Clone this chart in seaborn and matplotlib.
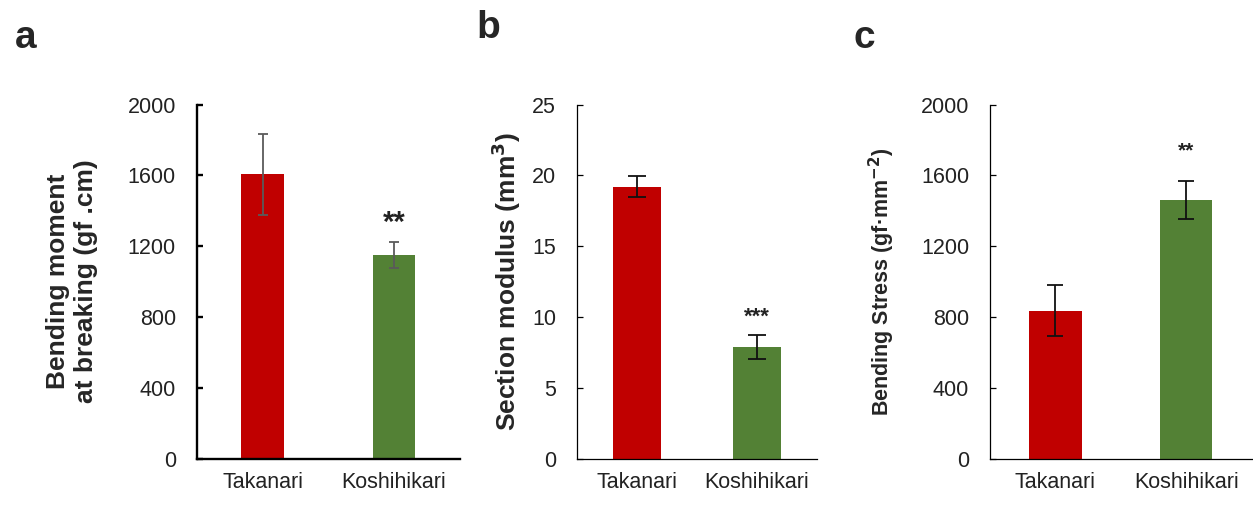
import numpy as np
import pandas as pd
import matplotlib
matplotlib.use("Agg")
import matplotlib.pyplot as plt
import seaborn as sns

#%% Data ########################################################################
cultivars = ["Takanari", "Koshihikari"]

moment_mean = [1605, 1150]      # bending moment at breaking (gf.cm)
moment_err = [230, 73]

modulus_mean = [19.2, 7.9]      # section modulus (mm3)
modulus_err = [0.73, 0.85]

stress_mean = [835, 1462]       # bending stress (gf/mm2)
stress_err = [145, 108]

stars = ["**", "***", "**"]

#%% Style #######################################################################
sns.set_theme(style="white")
plt.rcParams["font.family"] = ["Liberation Sans", "DejaVu Sans"]
colors = ["#C00000", "#538135"]

fig = plt.figure(figsize=(12.53, 5.05), dpi=100)

panels = [
    dict(rect=[0.157, 0.092, 0.210, 0.701], mean=moment_mean, err=moment_err,
         ylim=2000, ticks=[0, 400, 800, 1200, 1600, 2000], width=0.32,
         label="Bending moment\nat breaking (gf .cm)", lsize=19, lx=-0.475,
         spine=1.7, ecol="#5a5a5a", cap=6.5, star_y=1330, star_size=21, star_w="bold",
         letter="a", letter_xy=(0.012, 0.925)),
    dict(rect=[0.4605, 0.092, 0.1915, 0.701], mean=modulus_mean, err=modulus_err,
         ylim=25, ticks=[0, 5, 10, 15, 20, 25], width=0.40,
         label="Section modulus (mm$^{\\mathbf{3}}$)", lsize=19, lx=-0.296,
         spine=0.9, ecol="#111111", cap=13, star_y=10.0, star_size=16, star_w="bold",
         letter="b", letter_xy=(0.380, 0.945)),
    dict(rect=[0.790, 0.092, 0.209, 0.701], mean=stress_mean, err=stress_err,
         ylim=2000, ticks=[0, 400, 800, 1200, 1600, 2000], width=0.40,
         label="Bending Stress (gf·mm$^{\\mathbf{-2}}$)", lsize=15.5, lx=-0.412,
         spine=0.9, ecol="#111111", cap=12, star_y=1740, star_size=15, star_w="bold",
         letter="c", letter_xy=(0.681, 0.925)),
]

for p, star in zip(panels, stars):
    ax = fig.add_axes(p["rect"])
    df = pd.DataFrame({"cultivar": cultivars, "value": p["mean"]})
    sns.barplot(data=df, x="cultivar", y="value", hue="cultivar", palette=colors,
                order=cultivars, legend=False, width=p["width"], saturation=1,
                linewidth=0, ax=ax)
    ax.errorbar(range(len(cultivars)), p["mean"], yerr=p["err"], fmt="none",
                ecolor=p["ecol"], elinewidth=1.3, capsize=p["cap"] / 2, capthick=1.3)

    ax.set_xlim(-0.5, 1.5)
    ax.set_ylim(0, p["ylim"])
    ax.set_yticks(p["ticks"])
    ax.set_yticklabels([str(t) for t in p["ticks"]], fontsize=15.5, color="#222222")
    ax.set_xticks([0, 1])
    ax.set_xticklabels(cultivars, fontsize=15.5, color="#222222")
    ax.set_xticks([-0.5, 0.5, 1.5], minor=True)
    ax.tick_params(axis="x", which="major", length=0, pad=10)
    ax.tick_params(axis="x", which="minor", direction="in", length=5, width=p["spine"], color="black")
    ax.tick_params(axis="y", direction="in", length=4, width=p["spine"], pad=15, color="black", left=True)
    ax.set_xlabel("")
    ax.set_ylabel(p["label"], fontsize=p["lsize"], fontweight="bold", va="center", ha="center")
    ax.yaxis.set_label_coords(p["lx"], 0.5)
    for side in ["top", "right"]:
        ax.spines[side].set_visible(False)
    for side in ["left", "bottom"]:
        ax.spines[side].set_color("black")
        ax.spines[side].set_linewidth(p["spine"])

    ax.text(1, p["star_y"], star, ha="center", va="center", fontsize=p["star_size"],
            fontweight=p["star_w"], color="#222222")
    fig.text(p["letter_xy"][0], p["letter_xy"][1], p["letter"], fontsize=28, fontweight="bold",
             ha="left", va="center")

fig.savefig("out.png", dpi=100)
